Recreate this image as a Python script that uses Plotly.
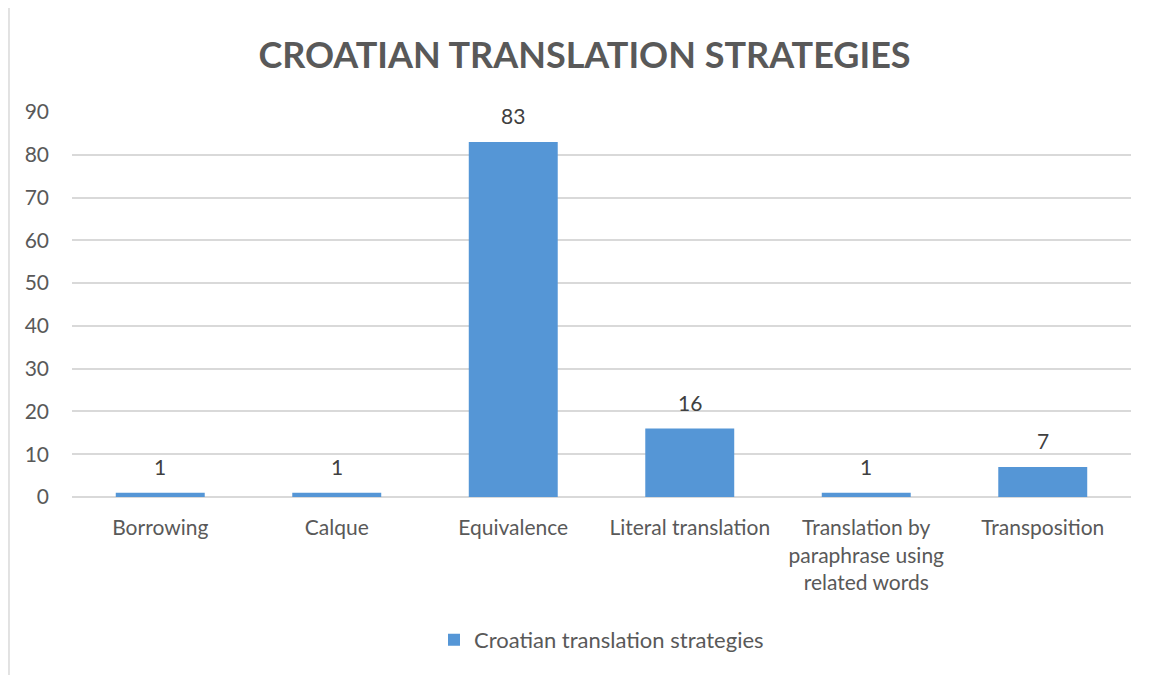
import plotly.graph_objects as go

categories = ["Borrowing", "Calque", "Equivalence", "Literal translation",
              "Translation by<br>paraphrase using<br>related words", "Transposition"]
values = [1, 1, 83, 16, 1, 7]
series_name = "Croatian translation strategies"
y_ticks = [0, 10, 20, 30, 40, 50, 60, 70, 80, 90]

FONT = "Lato, Calibri, sans-serif"
GRAY = "#595959"
BAR = "#5596D6"

fig = go.Figure()
fig.add_trace(go.Bar(
    x=categories, y=values, name=series_name,
    marker=dict(color=BAR, line=dict(width=0)),
    showlegend=True,
))

for c, v in zip(categories, values):
    fig.add_annotation(x=c, y=v, text=str(v), showarrow=False,
                       yanchor="bottom", yshift=12,
                       font=dict(family=FONT, size=21, color="#404040"))

# outer chart frame
fig.add_shape(type="rect", xref="paper", yref="paper",
              x0=-0.0595, x1=1.05, y0=-0.5, y1=1.2727,
              line=dict(color="#D9D9D9", width=1.5), layer="below")

fig.update_layout(
    width=1153, height=675,
    margin=dict(l=64, r=30, t=104, b=186),
    paper_bgcolor="white", plot_bgcolor="white",
    bargap=0.496,
    title=dict(text="<b>CROATIAN TRANSLATION STRATEGIES</b>",
               x=0.5, xanchor="center", y=1 - 47 / 675, yanchor="middle",
               font=dict(family=FONT, size=36, color=GRAY)),
    font=dict(family=FONT, size=21, color=GRAY),
    legend=dict(orientation="h", x=0.5, xanchor="center",
                y=-0.371, yanchor="middle",
                font=dict(family=FONT, size=22, color=GRAY),
                itemwidth=30),
    xaxis=dict(showgrid=False, showline=False, zeroline=False,
               tickfont=dict(family=FONT, size=21, color=GRAY),
               ticks="outside", ticklen=12, tickcolor="rgba(0,0,0,0)"),
    yaxis=dict(range=[0, 90], tickvals=y_ticks, showgrid=True,
               gridcolor="#D9D9D9", gridwidth=1.5,
               zeroline=True, zerolinecolor="#D9D9D9", zerolinewidth=1.5,
               showline=False, ticklabelstandoff=22,
               tickfont=dict(family=FONT, size=21, color=GRAY)),
)

fig.write_html("out.html")
